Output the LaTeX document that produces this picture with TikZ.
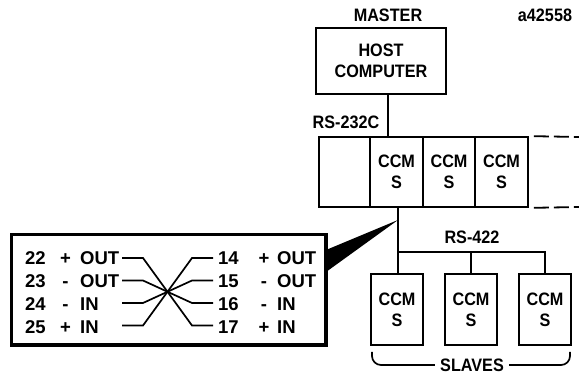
\documentclass[tikz,border=0pt]{standalone}
\usepackage{fontspec}
\setmainfont{Liberation Sans}
\newfontfamily\narrowsans{Liberation Sans}[FakeStretch=0.9]
\begin{document}
\begin{tikzpicture}[x=1pt,y=-1pt,
  box/.style={draw, line width=1.8pt, inner sep=0pt, align=center},
  wire/.style={line width=1.7pt},
  lbl/.style={font=\fontsize{18}{21}\narrowsans\bfseries, inner sep=0pt},
  pin/.style={font=\fontsize{18.5}{20}\selectfont\bfseries, inner sep=0pt, text height=13.3pt, text depth=0pt},
  cell/.style={box, lbl, minimum height=70},
  slave/.style={box, lbl, minimum width=52, minimum height=71},
]
\useasboundingbox (0,0) rectangle (579,374);

% master
\node[lbl] (master) at (388,15) {MASTER};
\node[lbl] (fig) at (545,15) {a42558};
\node[box, lbl, minimum width=130, minimum height=66] (host) at (381,61) {HOST\\COMPUTER};
\node[lbl] (rs232) at (346,122) {RS-232C};

% rack
\node[cell, minimum width=51] (c0) at (344.5,172) {};
\node[cell, minimum width=53] (c1) at (396.5,172) {CCM\\S};
\node[cell, minimum width=52] (c2) at (449,172) {CCM\\S};
\node[cell, minimum width=53] (c3) at (501.5,172) {CCM\\S};
\coordinate (up) at (388,137);
\draw[wire] (up) -- (up |- host.south);
\draw[line width=1.8pt, dash pattern=on 15pt off 5pt, dash phase=15pt] (c3.north east) -- (579,137);
\draw[line width=1.8pt, dash pattern=on 15pt off 5pt, dash phase=15pt] (c3.south east) -- (579,207);

% slaves
\node[slave] (s1) at (397,309.5) {CCM\\S};
\node[slave] (s2) at (471,309.5) {CCM\\S};
\node[slave] (s3) at (545,309.5) {CCM\\S};
\node[lbl] (rs422) at (472,237) {RS-422};
\node[lbl] (slaves) at (472,365) {SLAVES};
\coordinate (tap) at (398,207);
\coordinate (bus) at (398,252);
\draw[wire] (tap) -- (tap |- s1.north);
\draw[wire] (bus) -| (s3.north);
\draw[wire] (s2.north |- bus) -- (s2.north);
\draw[wire, rounded corners=9pt] (372,352) -- (372,365) -- ([xshift=-5pt]slaves.west);
\draw[wire, rounded corners=9pt] ([xshift=5pt]slaves.east) -- (570,365) -- (570,352);

% wiring box
\node[draw, line width=3.5pt, minimum width=314.5, minimum height=110.5, inner sep=0pt] (wbox) at (168.75,289.75) {};
\coordinate (apex) at (398,220);
\coordinate (wa) at (326,250);
\coordinate (wb) at (326,272);
\fill (wa) -- (wb) -- (apex) -- cycle;

% pins left
\foreach \n/\s/\t/\y [count=\i] in {22/+/OUT/258, 23/-/OUT/281, 24/-/IN/304, 25/+/IN/327}{
  \node[pin, anchor=west] (ln\i) at (25,\y) {\n};
  \node[pin] (ls\i) at (65.5,\y) {\s};
  \node[pin, anchor=west] (lt\i) at (80,\y) {\t};
}
\foreach \n/\s/\t/\y [count=\i] in {14/+/OUT/258, 15/-/OUT/281, 16/-/IN/304, 17/+/IN/327}{
  \node[pin, anchor=west] (rn\i) at (218,\y) {\n};
  \node[pin] (rs\i) at (264,\y) {\s};
  \node[pin, anchor=west] (rt\i) at (277,\y) {\t};
}
\foreach \y [count=\i] in {258,280.5,303,325.5}{
  \coordinate (L\i) at (122,\y);
  \coordinate (LA\i) at (143,\y);
  \coordinate (RA\i) at (192,\y);
  \coordinate (R\i) at (213,\y);
}
\draw[wire] (L1) -- (LA1) -- (RA4) -- (R4);
\draw[wire] (L2) -- (LA2) -- (RA3) -- (R3);
\draw[wire] (L3) -- (LA3) -- (RA2) -- (R2);
\draw[wire] (L4) -- (LA4) -- (RA1) -- (R1);
\end{tikzpicture}
\end{document}
